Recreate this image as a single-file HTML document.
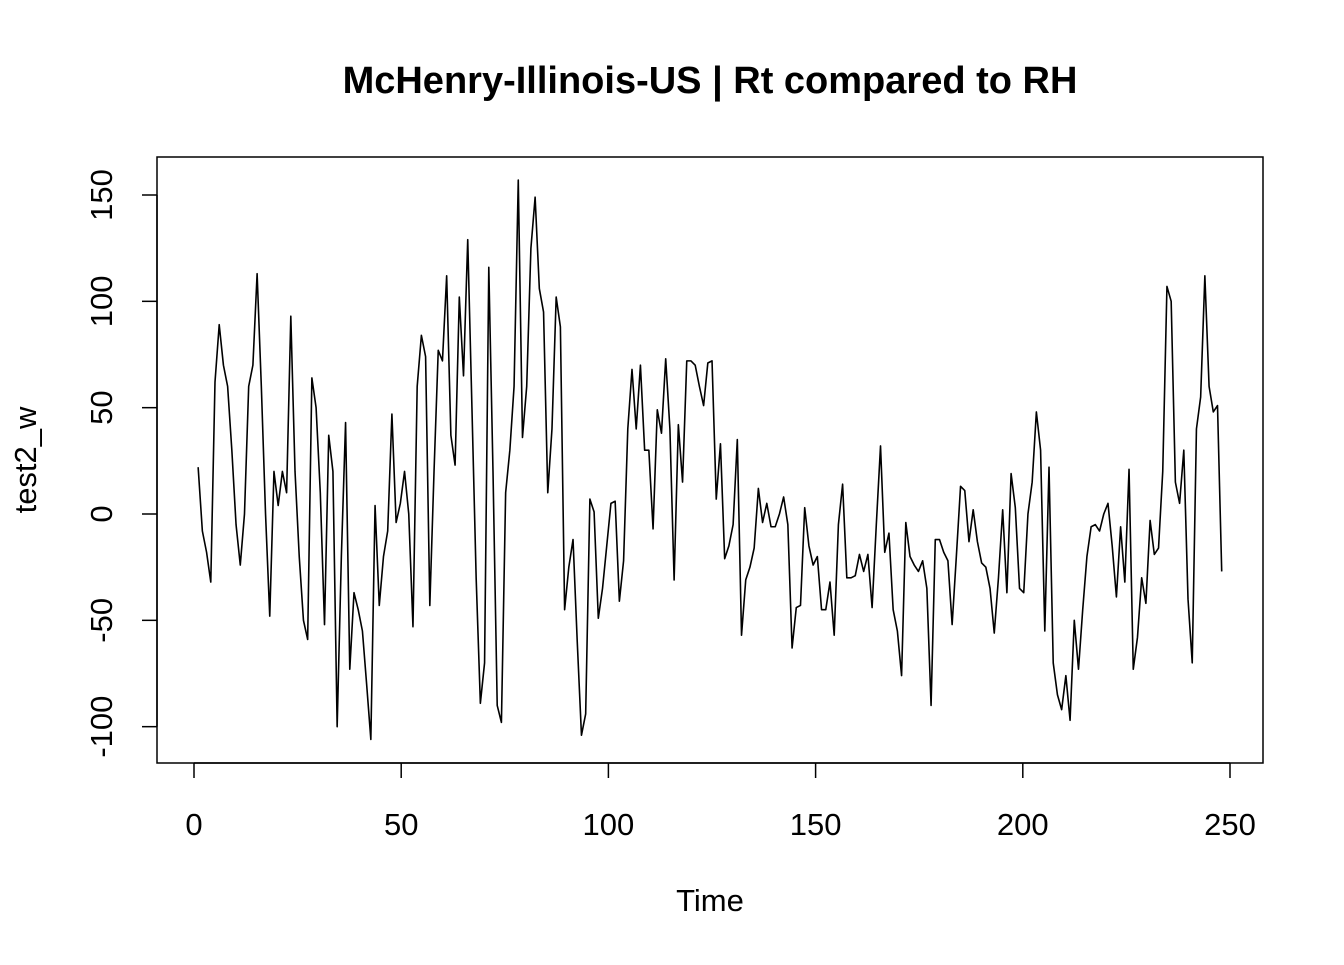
<!DOCTYPE html>
<html><head><meta charset="utf-8"><style>
body{margin:0;background:#fff}
svg text{font-family:"Liberation Sans",Arial,sans-serif;fill:#000}
</style></head><body>
<svg id="chart" width="1344" height="960" xmlns="http://www.w3.org/2000/svg">
<text x="710" y="93" font-size="38" font-weight="bold" text-anchor="middle">McHenry-Illinois-US | Rt compared to RH</text>
<rect x="157" y="157" width="1106" height="606" fill="none" stroke="#000" stroke-width="1.5"/>
<g id="xaxis"></g>
<g id="yaxis"></g>
<text x="710" y="911" font-size="31" text-anchor="middle">Time</text>
<text transform="translate(36,460) rotate(-90)" font-size="31" text-anchor="middle">test2_w</text>
<path id="series" fill="none" stroke="#000" stroke-width="1.6" stroke-linejoin="round"/>
</svg>
<script>
const xTicks=[0,50,100,150,200,250];
const yTicks=[-100,-50,0,50,100,150];
const values=[22,-8,-18,-32,62,89,70,60,30,-5,-24,0,60,70,113,60,0,-48,20,4,20,10,93,20,-20,-50,-59,64,50,10,-52,37,20,-100,-20,43,-73,-37,-45,-55,-80,-106,4,-43,-20,-8,47,-4,5,20,0,-53,60,84,74,-43,20,77,72,112,37,23,102,65,129,50,-30,-89,-70,116,20,-90,-98,10,30,60,157,36,60,125,149,106,95,10,40,102,88,-45,-25,-12,-60,-104,-94,7,1,-49,-35,-15,5,6,-41,-22,40,68,40,70,30,30,-7,49,38,73,40,-31,42,15,72,72,70,60,51,71,72,7,33,-21,-15,-5,35,-57,-31,-25,-16,12,-4,5,-6,-6,0,8,-5,-63,-44,-43,3,-15,-24,-20,-45,-45,-32,-57,-5,14,-30,-30,-29,-19,-27,-19,-44,-5,32,-18,-9,-45,-55,-76,-4,-20,-24,-27,-22,-35,-90,-12,-12,-18,-22,-52,-20,13,11,-13,2,-13,-23,-25,-35,-56,-30,2,-37,19,3,-35,-37,0,15,48,30,-55,22,-70,-85,-92,-76,-97,-50,-73,-45,-20,-6,-5,-8,0,5,-15,-39,-6,-32,21,-73,-58,-30,-42,-3,-19,-16,20,107,100,15,5,30,-40,-70,40,55,112,60,48,51,-27];
const tStart=1, tEnd=248;
const X=t=>194+(t-0)*(1230-194)/250;
const Y=v=>514-v*(514-195)/150;
const NS='http://www.w3.org/2000/svg';
const xa=document.getElementById('xaxis'), ya=document.getElementById('yaxis');
function mk(tag,attrs,parent){const e=document.createElementNS(NS,tag);for(const k in attrs)e.setAttribute(k,attrs[k]);parent.appendChild(e);return e;}
mk('line',{x1:X(xTicks[0]),x2:X(xTicks[xTicks.length-1]),y1:763,y2:763,stroke:'#000','stroke-width':1.5},xa);
xTicks.forEach(t=>{
 const l=mk('line',{x1:X(t),x2:X(t),y1:763,y2:778,stroke:'#000','stroke-width':1.5},xa);
 
 
 const tx=mk('text',{x:X(t),y:835,'font-size':31,'text-anchor':'middle'},xa);tx.textContent=t;
 
 
});
mk('line',{x1:157,x2:157,y1:Y(yTicks[0]),y2:Y(yTicks[yTicks.length-1]),stroke:'#000','stroke-width':1.5},ya);
yTicks.forEach(v=>{
 const l=mk('line',{x1:142,x2:157,y1:Y(v),y2:Y(v),stroke:'#000','stroke-width':1.5},ya);
 
 
 const tx=mk('text',{transform:`translate(112,${Y(v)}) rotate(-90)`,'font-size':31,'text-anchor':'middle'},ya);tx.textContent=v;
 
 
});
const n=values.length;
let d='';
values.forEach((v,i)=>{const t=tStart+i*(tEnd-tStart)/(n-1);d+=(i?'L':'M')+X(t).toFixed(2)+' '+Y(v).toFixed(2);});
document.getElementById('series').setAttribute('d',d);
</script>
</body></html>
